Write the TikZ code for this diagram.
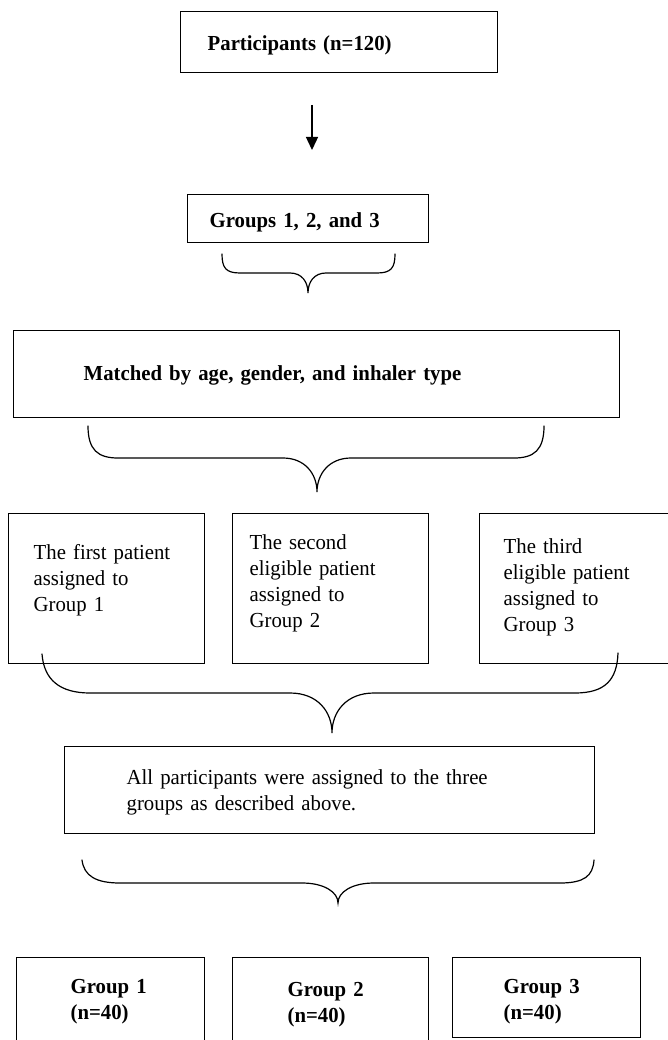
\documentclass[tikz,border=0pt]{standalone}
\usepackage{fontspec}
\setmainfont[FakeStretch=0.97]{Liberation Serif}
\usetikzlibrary{arrows.meta}
\tikzset{%
	block/.style    = {draw, rectangle, line width=1.4pt, anchor=north west, inner ysep=0pt, align=left, font=\fontsize{21.4}{26}\selectfont},
	bblock/.style   = {block, font=\fontsize{21.4}{26}\selectfont\bfseries},
	brace/.style    = {line width=1.2pt, line cap=round},
	arrow/.style    = {line width=1.4pt, -{Triangle[width=12pt,length=13pt]}},
}

\begin{document}
\begin{tikzpicture}[x=1pt,y=-1pt]
	\useasboundingbox (0,0) rectangle (667,1040);
	\node [bblock,text width=263pt,inner xsep=27pt,text height=39pt,text depth=22pt] (part) at (180,11) {Participants (n=120)};
	\node [bblock,text width=197pt,inner xsep=22pt,text height=33pt,text depth=15pt] (grps) at (187,194) {Groups 1, 2, and 3};
	\node [bblock,text width=466pt,inner xsep=70pt,text height=50pt,text depth=37pt] (match) at (13,330) {Matched by age, gender, and inhaler type};
	\node [block,text width=146pt,inner xsep=25pt,text height=46pt,text depth=104pt] (first) at (8,513) {The first patient\\assigned to\\Group 1};
	\node [block,text width=162pt,inner xsep=17pt,text height=36pt,text depth=114pt] (second) at (232,513) {The second\\eligible patient\\assigned to\\Group 2};
	\node [block,text width=145pt,inner xsep=24pt,text height=40pt,text depth=110pt] (third) at (479,513) {The third\\eligible patient\\assigned to\\Group 3};
	\node [block,text width=406pt,inner xsep=62pt,text height=38pt,text depth=49pt] (all) at (64,746) {All participants were assigned to the three\\groups as described above.};
	\node [bblock,text width=80pt,inner xsep=54pt,text height=36pt,text depth=55pt] (g1) at (16,957) {Group~1\\(n=40)};
	\node [bblock,text width=86pt,inner xsep=55pt,text height=39pt,text depth=52pt] (g2) at (232,957) {Group~2\\(n=40)};
	\node [bblock,text width=86pt,inner xsep=51pt,text height=36pt,text depth=44pt] (g3) at (452,957) {Group~3\\(n=40)};
	
	\coordinate (a0) at (312,105);
	\coordinate (a1) at (312,150);
	\draw[arrow] (a0) -- (a1);
	
	% braces
	\draw[brace] (222,254) .. controls (222,268) and (226,273) .. (240,273) -- (290,273) .. controls (302,273) and (308,282) .. (308,293) .. controls (308,282) and (314,273) .. (326,273) -- (377,273) .. controls (391,273) and (395,268) .. (395,254);
	\draw[brace] (88,426) .. controls (88,450) and (98,458) .. (118,458) -- (283,458) .. controls (305,458) and (317,474) .. (317,492) .. controls (317,474) and (329,458) .. (351,458) -- (514,458) .. controls (534,458) and (544,450) .. (544,426);
	\draw[brace] (42,654) .. controls (44,680) and (60,693) .. (90,693) -- (290,693) .. controls (318,693) and (332,712) .. (332,733) .. controls (332,712) and (346,693) .. (374,693) -- (575,693) .. controls (605,693) and (617,680) .. (618,653);
	\draw[brace] (82,860) .. controls (84,876) and (96,883) .. (120,883) -- (302,883) .. controls (324,883) and (338,892) .. (338,903) .. controls (338,892) and (352,883) .. (374,883) -- (560,883) .. controls (584,883) and (593,876) .. (594,860);
\end{tikzpicture}
\end{document}
